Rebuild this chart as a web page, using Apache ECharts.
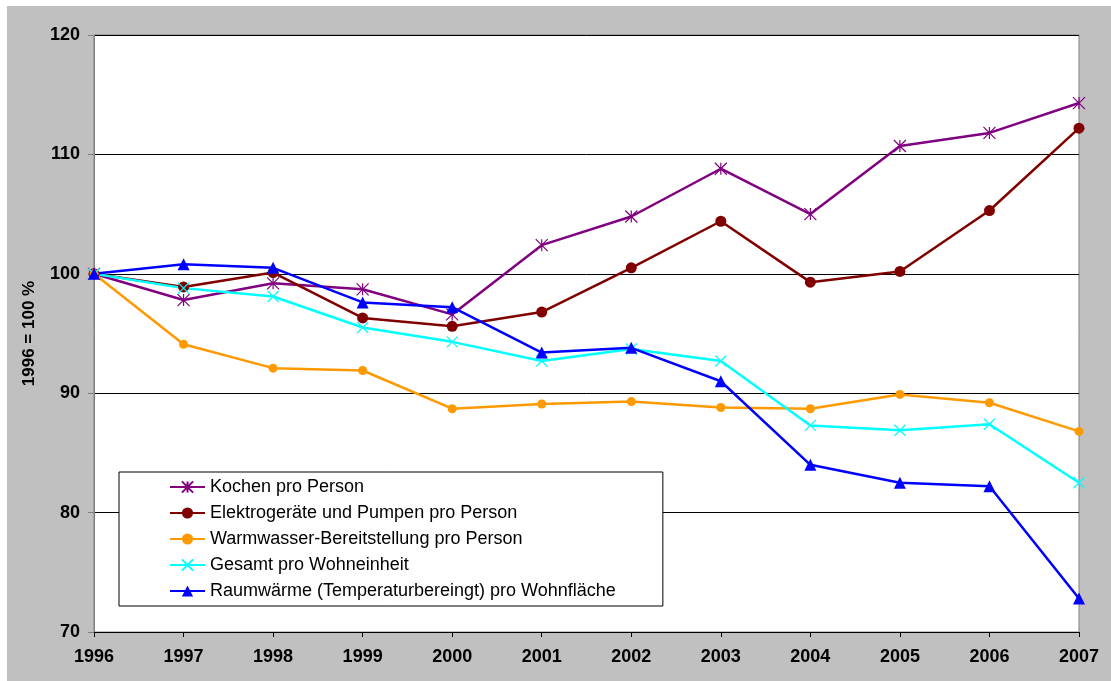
<!DOCTYPE html>
<html>
<head>
<meta charset="utf-8">
<script src="https://cdn.jsdelivr.net/npm/echarts@6/dist/echarts.min.js"></script>
<style>
html, body { margin: 0; padding: 0; background: #fff; }
#chart { width: 1111px; height: 681px; }
</style>
</head>
<body>
<div id="chart"></div>
<script>
let years = ['1996', '1997', '1998', '1999', '2000', '2001', '2002', '2003', '2004', '2005', '2006', '2007'];
let kochen = [100, 97.8, 99.2, 98.7, 96.6, 102.4, 104.8, 108.8, 105.0, 110.7, 111.8, 114.3];
let elektro = [100, 98.9, 100.1, 96.3, 95.6, 96.8, 100.5, 104.4, 99.3, 100.2, 105.3, 112.2];
let warmwasser = [100, 94.1, 92.1, 91.9, 88.7, 89.1, 89.3, 88.8, 88.7, 89.9, 89.2, 86.8];
let gesamt = [100, 98.8, 98.1, 95.5, 94.3, 92.7, 93.7, 92.7, 87.3, 86.9, 87.4, 82.5];
let raumwaerme = [100, 100.8, 100.5, 97.6, 97.2, 93.4, 93.8, 91.0, 84.0, 82.5, 82.2, 72.8];

let font = 'Liberation Sans, Arial, sans-serif';
let starPath = 'path://M5,0 L5,10 M0,0 L10,10 M10,0 L0,10';
let crossPath = 'path://M0,0 L10,10 M10,0 L0,10';

function lineSeries(name, data, color, symbol, size, stroke) {
    return {
        name: name,
        type: 'line',
        data: data,
        symbol: symbol,
        symbolSize: size,
        showAllSymbol: true,
        lineStyle: { color: color, width: 2.5 },
        itemStyle: stroke
            ? { color: 'none', borderColor: color, borderWidth: 1.2 }
            : { color: color, borderWidth: 0 },
        emphasis: { disabled: true },
        animation: false
    };
}

let myc = echarts.init(document.getElementById('chart'));
myc.setOption({
    backgroundColor: '#fff',
    textStyle: { fontFamily: font },
    graphic: [{
        type: 'rect',
        z: -100,
        silent: true,
        shape: { x: 7, y: 6, width: 1104, height: 675 },
        style: { fill: '#c0c0c0' }
    }],
    grid: {
        left: 94, right: 32, top: 35, bottom: 49,
        show: true,
        backgroundColor: '#fff',
        borderColor: '#808080',
        borderWidth: 1
    },
    legend: {
        orient: 'vertical',
        left: 119,
        top: 472,
        padding: [6, 47, 6, 50],
        itemWidth: 35,
        itemHeight: 14,
        itemGap: 8,
        backgroundColor: '#fff',
        borderColor: '#000',
        borderWidth: 1,
        textStyle: { fontFamily: font, fontSize: 18, color: '#000' },
        data: ['Kochen pro Person', 'Elektrogeräte und Pumpen pro Person',
            'Warmwasser-Bereitstellung pro Person', 'Gesamt pro Wohneinheit',
            'Raumwärme (Temperaturbereingt) pro Wohnfläche']
    },
    xAxis: {
        type: 'category',
        data: years,
        boundaryGap: false,
        axisLine: { lineStyle: { color: '#000', width: 1 } },
        axisTick: { show: true, length: 5, lineStyle: { color: '#000' } },
        axisLabel: { fontSize: 18, fontWeight: 'bold', color: '#000', margin: 16, fontFamily: font },
        splitLine: { show: false }
    },
    yAxis: {
        type: 'value',
        min: 70,
        max: 120,
        interval: 10,
        name: '1996 = 100 %',
        nameLocation: 'middle',
        nameGap: 56,
        nameTextStyle: { fontSize: 17, fontWeight: 'bold', color: '#000', fontFamily: font },
        axisLine: { show: true, lineStyle: { color: '#808080', width: 1 } },
        axisTick: { show: true, length: 6, lineStyle: { color: '#808080' } },
        axisLabel: { fontSize: 18, fontWeight: 'bold', color: '#000', margin: 14, fontFamily: font },
        splitLine: { show: true, lineStyle: { color: '#000', width: 1 } }
    },
    series: [
        lineSeries('Kochen pro Person', kochen, '#800080', starPath, 12, true),
        lineSeries('Elektrogeräte und Pumpen pro Person', elektro, '#800000', 'circle', 11, false),
        lineSeries('Warmwasser-Bereitstellung pro Person', warmwasser, '#ff9900', 'circle', 9, false),
        lineSeries('Gesamt pro Wohneinheit', gesamt, '#00ffff', crossPath, 11, true),
        lineSeries('Raumwärme (Temperaturbereingt) pro Wohnfläche', raumwaerme, '#0000ff', 'triangle', 12, false)
    ]
});
</script>
</body>
</html>
